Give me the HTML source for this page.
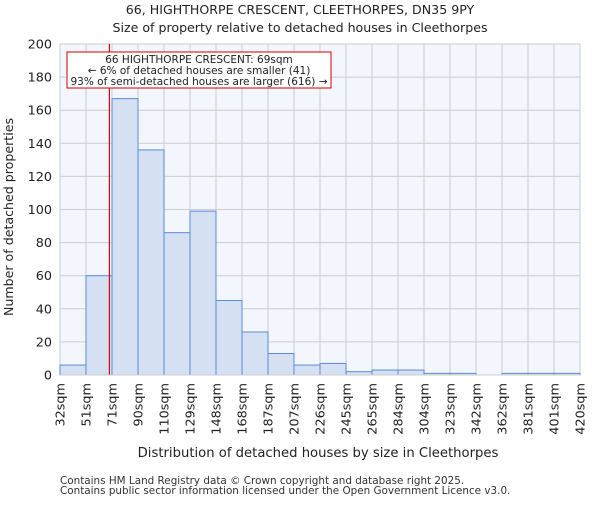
<!DOCTYPE html>
<html><head><meta charset="utf-8"><style>
body{margin:0;background:#fff;}
svg{font-family:"DejaVu Sans","Liberation Sans",sans-serif;}
</style></head><body>
<svg id="chart" width="600" height="500" xmlns="http://www.w3.org/2000/svg">
<text x="300" y="14" font-size="12.6" text-anchor="middle" fill="#222">66, HIGHTHORPE CRESCENT, CLEETHORPES, DN35 9PY</text>
<text x="300" y="32" font-size="12.6" text-anchor="middle" fill="#222">Size of property relative to detached houses in Cleethorpes</text>
<rect x="60" y="44" width="520" height="331" fill="#f3f6fd"/>
<g id="grid"></g>
<g id="bars"></g>
<g id="axes"></g>
<text x="318" y="457" font-size="13.2" text-anchor="middle" fill="#222">Distribution of detached houses by size in Cleethorpes</text>
<text transform="translate(13,217) rotate(-90)" font-size="12.6" text-anchor="middle" fill="#222">Number of detached properties</text>
<rect x="67" y="52" width="264" height="36" fill="#fff" stroke="#c00" stroke-width="1"/>
<text x="199" y="63" font-size="10.5" text-anchor="middle" fill="#222">66 HIGHTHORPE CRESCENT: 69sqm</text>
<text x="199" y="74" font-size="10.5" text-anchor="middle" fill="#222">← 6% of detached houses are smaller (41)</text>
<text x="199" y="85" font-size="10.5" text-anchor="middle" fill="#222">93% of semi-detached houses are larger (616) →</text>
<text x="60" y="484" font-size="10.4" fill="#333">Contains HM Land Registry data © Crown copyright and database right 2025.</text>
<text x="60" y="494" font-size="10.4" fill="#333">Contains public sector information licensed under the Open Government Licence v3.0.</text>
</svg>
<script>
const binLabels=["32sqm","51sqm","71sqm","90sqm","110sqm","129sqm","148sqm","168sqm","187sqm","207sqm","226sqm","245sqm","265sqm","284sqm","304sqm","323sqm","342sqm","362sqm","381sqm","401sqm","420sqm"];
const binEdges=[32,51,71,90,110,129,148,168,187,207,226,245,265,284,304,323,342,362,381,401,420];
const counts=[6,60,167,136,86,99,45,26,13,6,7,2,3,3,1,1,0,1,1,1];
const yTicks=[0,20,40,60,80,100,120,140,160,180,200];
const propertySize=69;
const NS="http://www.w3.org/2000/svg";
const X0=60,X1=580,Y0=375,Y1=44,YMAX=200;
const nb=counts.length,bw=(X1-X0)/nb;
function xIdx(i){return X0+i*bw;}
function xVal(v){for(let i=0;i<binEdges.length-1;i++){if(v<=binEdges[i+1])return xIdx(i)+(v-binEdges[i])/(binEdges[i+1]-binEdges[i])*bw;}return X1;}
function y(v){return Y0-v/YMAX*(Y0-Y1);}
function mk(t,a,p){const e=document.createElementNS(NS,t);for(const k in a)e.setAttribute(k,a[k]);p.appendChild(e);return e;}
const grid=document.getElementById('grid'),bars=document.getElementById('bars'),axes=document.getElementById('axes');
yTicks.forEach(t=>{
 const l=mk('line',{x1:X0,x2:X1,y1:y(t),y2:y(t),stroke:'#ccc','stroke-width':1},grid);
 
 
 const tx=mk('text',{x:X0-8,y:y(t)+4.5,'font-size':12.8,'text-anchor':'end',fill:'#222'},axes);
 tx.textContent=t;
 
 
});
binLabels.forEach((lab,i)=>{
 const gx=xIdx(i);
 const l=mk('line',{x1:gx,x2:gx,y1:Y1,y2:Y0,stroke:'#ccc','stroke-width':1},grid);
 
 
 const tx=mk('text',{x:0,y:0,'font-size':12.8,'text-anchor':'end',fill:'#222',transform:`translate(${gx+4.5},${Y0+8}) rotate(-90)`},axes);
 tx.textContent=lab;
 
 
});
counts.forEach((c,i)=>{
 if(c<=0)return;
 const r=mk('rect',{x:xIdx(i),y:y(c),width:bw,height:Y0-y(c),fill:'#d6e0f3',stroke:'#5b8bd6','stroke-width':1},bars);
 
 
});
const rl=mk('line',{x1:xVal(propertySize),x2:xVal(propertySize),y1:Y1,y2:Y0,stroke:'#d00','stroke-width':1.2},bars);


const ax=mk('line',{x1:X0,x2:X1,y1:Y0,y2:Y0,stroke:'#ccc','stroke-width':1},axes);


</script>
</body></html>
